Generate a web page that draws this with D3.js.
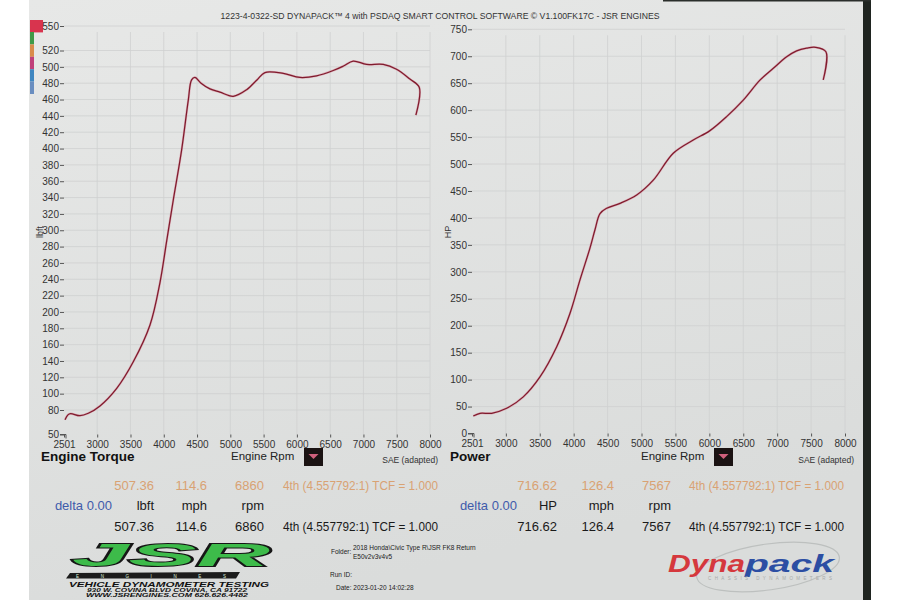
<!DOCTYPE html>
<head>
<meta charset="UTF-8">
<title>Dynapack torque and power sheet</title>
<script type="text/javascript" src="https://cdnjs.cloudflare.com/ajax/libs/d3/7.8.5/d3.min.js"></script>
<style>
body { margin:0; background:#fff; }
text { font-family:"Liberation Sans", Arial, sans-serif; }
.tick text { font-family:"Liberation Sans Narrow", "Arial Narrow", "Liberation Sans", sans-serif; font-size:10px; fill:#333; }
.tick line { stroke:#555; }
.grid line { stroke:#cfd1d0; stroke-width:0.8; }
</style>
</head>
<body>
<div id="chart"></div>
<script type="text/javascript">
// values
var rpmTicks = [2501, 3000, 3500, 4000, 4500, 5000, 5500, 6000, 6500, 7000, 7500, 8000];
var torqueTicks = [50, 80, 100, 120, 140, 160, 180, 200, 220, 240, 260, 280, 300, 320, 340, 360, 380, 400, 420, 440, 460, 480, 500, 520, 550];
var powerTicks = [0, 50, 100, 150, 200, 250, 300, 350, 400, 450, 500, 550, 600, 650, 700, 750];

var torqueRpm = [2516, 2560, 2600, 2741, 2866, 3042, 3293, 3542, 3793, 3943, 4044, 4143, 4268, 4368, 4418, 4469, 4560, 4694, 4844, 5044, 5245, 5400, 5520, 5795, 6046, 6296, 6546, 6700, 6846, 7047, 7297, 7497, 7698, 7838, 7788];
var torqueVal = [68, 74, 75.5, 73, 76, 85, 106.5, 139, 184, 236, 287, 337, 398, 459, 484, 487, 480, 473, 469, 464, 472, 484, 493, 492, 487, 489, 495.5, 501, 507, 503, 503, 497, 485, 475, 441];

var powerRpm = [2520, 2619, 2791, 3012, 3257, 3503, 3750, 3946, 4093, 4240, 4314, 4388, 4487, 4683, 4929, 5173, 5468, 5763, 6009, 6255, 6500, 6746, 6943, 7140, 7287, 7434, 7567, 7719, 7679];
var powerVal = [32.5, 37.5, 37.5, 46.8, 68, 105, 161, 223, 285, 344, 378, 408, 418, 427, 442.5, 470, 520, 544.5, 562, 588, 618.6, 655.6, 677.6, 699, 710, 715, 716.6, 708.3, 656];

var legendColors = ["#d8344e", "#3f9a48", "#d98b4a", "#c0407a", "#3f86c0", "#6a8ec0"];

var torqueRead = ["507.36", "114.6", "6860", "4th (4.557792:1) TCF = 1.000"];
var torqueUnits = ["lbft", "mph", "rpm"];
var powerRead = ["716.62", "126.4", "7567", "4th (4.557792:1) TCF = 1.000"];
var powerUnits = ["HP", "mph", "rpm"];
var deltaText = "delta 0.00";
var titleText = "1223-4-0322-SD DYNAPACK\u2122 4 with PSDAQ SMART CONTROL SOFTWARE \u00a9 V1.100FK17C - JSR ENGINES";
var folderLines = ["2018 Honda\\Civic Type R\\JSR FK8 Return", "E50v2v3v4v5"];
var dateText = "Date: 2023-01-20 14:02:28";

var width = 900, height = 600;
var svg = d3.select("#chart").append("svg").attr("width", width).attr("height", height);

// paper
var grad = svg.append("defs").append("linearGradient").attr("id", "paper")
  .attr("x1", 0).attr("y1", 0).attr("x2", 0.3).attr("y2", 1);
grad.append("stop").attr("offset", "0%").attr("stop-color", "#e7e8e7");
grad.append("stop").attr("offset", "100%").attr("stop-color", "#dadcdb");
svg.append("rect").attr("x", 29).attr("y", 0).attr("width", 834).attr("height", 600).attr("fill", "url(#paper)");
svg.append("rect").attr("x", 863).attr("y", 0).attr("width", 8).attr("height", 600).attr("fill", "#1f2420");
svg.append("rect").attr("x", 663).attr("y", 0).attr("width", 208).attr("height", 1.5).attr("fill", "#2a2e2b");

// colour swatches top left
svg.selectAll(".swatch").data(legendColors).enter().append("rect")
  .attr("x", 30)
  .attr("y", function(d, i) { return i == 0 ? 20 : 32 + (i - 1) * 12.4; })
  .attr("width", function(d, i) { return i == 0 ? 13 : 4; })
  .attr("height", 12.4)
  .attr("fill", function(d) { return d; });

svg.append("text").attr("x", 440).attr("y", 19).attr("text-anchor", "middle")
  .attr("font-size", "8.5px").attr("fill", "#333")
  .attr("textLength", 439).attr("lengthAdjust", "spacingAndGlyphs")
  .text(titleText);

function drawPanel(opt) {
  var x = d3.scaleLinear().domain([2501, 8000]).range(opt.xr);
  var y = d3.scaleLinear().domain(opt.yd).range(opt.yr);
  var g = svg.append("g");

  // faint grid
  var grid = g.append("g").attr("class", "grid");
  grid.selectAll(".v").data(rpmTicks.slice(1)).enter().append("line")
    .attr("x1", function(d) { return x(d); }).attr("x2", function(d) { return x(d); })
    .attr("y1", opt.yr[1] + 6).attr("y2", opt.yr[0]);
  grid.selectAll(".h").data(opt.yTicks.slice(1)).enter().append("line")
    .attr("x1", opt.xr[0]).attr("x2", opt.xr[1])
    .attr("y1", function(d) { return y(d); }).attr("y2", function(d) { return y(d); });

  var ya = g.append("g").attr("transform", "translate(" + opt.xr[0] + ",0)")
    .call(d3.axisLeft(y).tickValues(opt.yTicks).tickSize(4).tickPadding(1).tickFormat(d3.format("d")));
  ya.select(".domain").remove();
  var xa = g.append("g").attr("transform", "translate(0," + opt.yr[0] + ")")
    .call(d3.axisBottom(x).tickValues(rpmTicks).tickSize(3).tickPadding(3).tickFormat(d3.format("d")));
  xa.select(".domain").remove();
  // little corner at the origin
  g.append("path").attr("fill", "none").attr("stroke", "#555")
    .attr("d", "M" + (opt.xr[0] - 4) + "," + opt.yr[0] + "H" + (opt.xr[0] + 2) + "V" + (opt.yr[0] + 4));

  g.append("text").attr("transform", "translate(" + opt.unitX + ",232) rotate(-90)")
    .attr("text-anchor", "middle").attr("font-size", "9px").attr("fill", "#333").text(opt.unit);

  var line = d3.line().curve(d3.curveCatmullRom.alpha(0.5))
    .x(function(d) { return x(d[0]); }).y(function(d) { return y(d[1]); });
  var pts = d3.zip(opt.rpm, opt.val);
  g.append("path").datum(pts).attr("d", line).attr("fill", "none")
    .attr("stroke", "#d98c9c").attr("stroke-opacity", 0.6).attr("stroke-width", 2.3).attr("stroke-linejoin", "round");
  g.append("path").datum(pts).attr("d", line).attr("fill", "none")
    .attr("stroke", "#7f1b2d").attr("stroke-width", 1.25).attr("stroke-linejoin", "round");

  // labels under the plot
  g.append("text").attr("x", opt.nameX).attr("y", 461).attr("font-size", "13.5px")
    .attr("font-weight", "bold").attr("fill", "#111").text(opt.name);
  g.append("text").attr("x", opt.rpmX).attr("y", 460).attr("font-size", "11.5px").attr("fill", "#222").text("Engine Rpm");
  g.append("rect").attr("x", opt.rpmX + 73).attr("y", 448).attr("width", 19).attr("height", 18).attr("fill", "#1b1313");
  g.append("path").attr("fill", "#d0607c")
    .attr("d", "M" + (opt.rpmX + 77.5) + ",454H" + (opt.rpmX + 87.5) + "L" + (opt.rpmX + 82.5) + ",459Z");
  g.append("text").attr("x", opt.saeX).attr("y", 463).attr("text-anchor", "end")
    .attr("font-size", "8.5px").attr("fill", "#333").text("SAE (adapted)");

  // readout rows
  var cols = opt.cols;
  [489.5, 530.5].forEach(function(yy, r) {
    var col = r == 0 ? "#d9a273" : "#1a1a1a";
    opt.read.slice(0, 3).forEach(function(t, i) {
      g.append("text").attr("x", cols[i]).attr("y", yy).attr("text-anchor", "end")
        .attr("font-size", "13px").attr("fill", col).text(t);
    });
    g.append("text").attr("x", cols[3]).attr("y", yy).attr("font-size", "13px").attr("fill", col)
      .attr("textLength", 155).attr("lengthAdjust", "spacingAndGlyphs").text(opt.read[3]);
  });
  g.append("text").attr("x", opt.deltaX).attr("y", 509.5).attr("text-anchor", "end")
    .attr("font-size", "13px").attr("fill", "#3f5bab").text(deltaText);
  opt.units.forEach(function(t, i) {
    g.append("text").attr("x", cols[i]).attr("y", 509.5).attr("text-anchor", "end")
      .attr("font-size", "13px").attr("fill", "#1a1a1a").text(t);
  });
}

drawPanel({xr:[64, 430], yd:[50, 550], yr:[434.5, 26], yTicks:torqueTicks, rpm:torqueRpm, val:torqueVal,
  unit:"lbft", unitX:43, name:"Engine Torque", nameX:41, rpmX:231, saeX:438,
  read:torqueRead, units:torqueUnits, cols:[154, 207, 264, 283], deltaX:112});
drawPanel({xr:[472, 845], yd:[0, 750], yr:[433.5, 29.3], yTicks:powerTicks, rpm:powerRpm, val:powerVal,
  unit:"HP", unitX:451, name:"Power", nameX:450, rpmX:641, saeX:854,
  read:powerRead, units:powerUnits, cols:[557, 614, 671, 689], deltaX:517});

// folder / run info
var info = svg.append("g").attr("font-family", "'Liberation Sans Narrow', 'Liberation Sans', sans-serif").attr("fill", "#222");
info.append("text").attr("x", 331).attr("y", 553.5).attr("font-size", "6.5px").text("Folder:");
info.selectAll(".fl").data(folderLines).enter().append("text")
  .attr("x", 353).attr("y", function(d, i) { return 550 + i * 9; })
  .attr("font-size", "6.5px").text(function(d) { return d; });
info.append("text").attr("x", 330).attr("y", 577).attr("font-size", "6.5px").text("Run ID:");
info.append("text").attr("x", 336).attr("y", 590).attr("font-size", "6.5px").text(dateText);

// JSR logo
var jsr = svg.append("g");
jsr.append("path").attr("fill", "#1c1c1c").attr("d", "M70,573 L240,572 L236,578.5 L66,578.5 Z");
jsr.append("text").attr("x", 72).attr("y", 566).attr("font-family", "'DejaVu Sans', sans-serif")
  .attr("font-size", "32px").attr("font-weight", "bold").attr("font-style", "italic")
  .attr("fill", "#3dbb4a").attr("stroke", "#161616").attr("stroke-width", 2).attr("paint-order", "stroke")
  .attr("textLength", 198).attr("lengthAdjust", "spacingAndGlyphs").text("JSR");
jsr.append("text").attr("x", 76).attr("y", 578).attr("font-size", "4.5px").attr("fill", "#dfeedd")
  .attr("textLength", 150).attr("lengthAdjust", "spacing").text("ENGINES");
jsr.append("text").attr("x", 69).attr("y", 586.5).attr("font-family", "'DejaVu Sans', sans-serif")
  .attr("font-size", "7px").attr("font-weight", "bold").attr("font-style", "italic").attr("fill", "#111")
  .attr("textLength", 200).attr("lengthAdjust", "spacingAndGlyphs").text("VEHICLE DYNAMOMETER TESTING");
jsr.append("text").attr("x", 87).attr("y", 591.5).attr("font-size", "4.5px").attr("font-weight", "bold")
  .attr("font-style", "italic").attr("fill", "#111").attr("textLength", 160).attr("lengthAdjust", "spacingAndGlyphs")
  .text("930 W. COVINA BLVD COVINA, CA 91722");
jsr.append("text").attr("x", 86).attr("y", 596.5).attr("font-size", "4.5px").attr("font-weight", "bold")
  .attr("font-style", "italic").attr("fill", "#111").attr("textLength", 162).attr("lengthAdjust", "spacingAndGlyphs")
  .text("WWW.JSRENGINES.COM 626.626.4482");

// Dynapack logo
var dp = svg.append("g");
dp.append("ellipse").attr("cx", 768).attr("cy", 567).attr("rx", 72).attr("ry", 23)
  .attr("transform", "rotate(-8,768,567)").attr("fill", "none").attr("stroke", "#bdc0bf").attr("stroke-width", 1.2);
dp.append("text").attr("x", 668).attr("y", 572).attr("font-size", "24px").attr("font-weight", "bold")
  .attr("font-style", "italic").attr("fill", "#d5383d").attr("textLength", 77)
  .attr("lengthAdjust", "spacingAndGlyphs").text("Dyna");
dp.append("text").attr("x", 745).attr("y", 572).attr("font-size", "24px").attr("font-weight", "bold")
  .attr("font-style", "italic").attr("fill", "#2c4ea3").attr("textLength", 89)
  .attr("lengthAdjust", "spacingAndGlyphs").text("pack");
dp.append("text").attr("x", 708).attr("y", 580).attr("font-size", "4.5px").attr("fill", "#a9abaa")
  .attr("textLength", 124).attr("lengthAdjust", "spacing").text("CHASSIS DYNAMOMETERS");
</script>
</body>
</html>
